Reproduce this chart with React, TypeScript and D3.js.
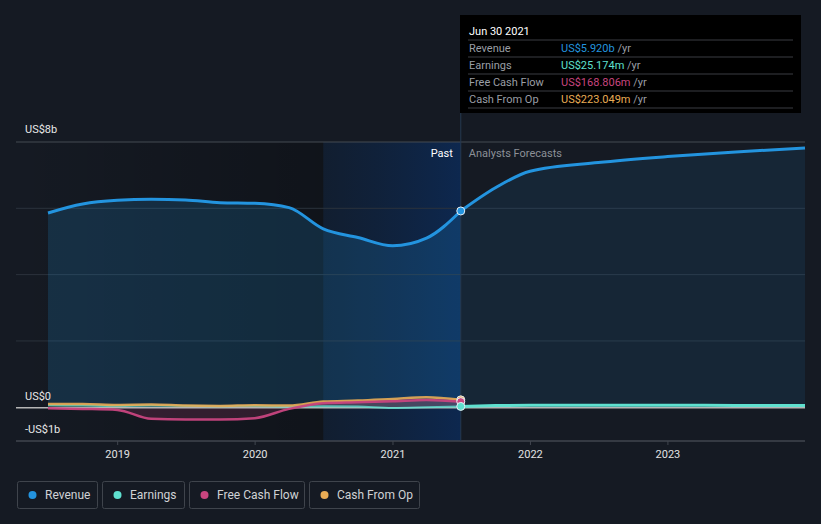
import React, { useEffect, useRef } from 'react';
import * as d3 from 'd3';

// quarterly history + analyst forecasts, values in US$ billions
const pastDates = [
  '2018-06-30', '2018-09-30', '2018-12-31', '2019-03-31', '2019-06-30', '2019-09-30', '2019-12-31',
  '2020-03-31', '2020-06-30', '2020-09-30', '2020-12-31', '2021-03-31', '2021-06-30',
];
const revenuePast = [5.86, 6.13, 6.24, 6.27, 6.25, 6.17, 6.15, 6.02, 5.38, 5.12, 4.87, 5.1, 5.92];
const earningsPast = [0.06, 0.05, 0.04, 0.05, 0.04, 0.03, 0.04, 0.02, 0.03, 0.02, -0.02, 0.0, 0.025];
const fcfPast = [-0.03, -0.05, -0.08, -0.35, -0.37, -0.37, -0.33, -0.05, 0.12, 0.15, 0.18, 0.22, 0.169];
const cfoPast = [0.1, 0.1, 0.07, 0.08, 0.05, 0.04, 0.06, 0.05, 0.17, 0.2, 0.25, 0.3, 0.223];

const forecastDates = ['2021-06-30', '2021-09-30', '2021-12-31', '2022-06-30', '2022-12-31', '2023-06-30', '2023-12-31'];
const revenueForecast = [5.92, 6.62, 7.12, 7.38, 7.56, 7.7, 7.82];
const earningsForecast = [0.025, 0.05, 0.06, 0.06, 0.06, 0.055, 0.05];

const yearTicks = [2019, 2020, 2021, 2022, 2023];
const yLabels = [
  { v: 8, t: 'US$8b' },
  { v: 0, t: 'US$0' },
  { v: -1, t: '-US$1b' },
];

const series = [
  { name: 'Revenue', color: '#2394df', value: 'US$5.920b' },
  { name: 'Earnings', color: '#5fe0cf', value: 'US$25.174m' },
  { name: 'Free Cash Flow', color: '#c8457f', value: 'US$168.806m' },
  { name: 'Cash From Op', color: '#e9ac55', value: 'US$223.049m' },
];

const W = 821;
const H = 524;
const FONT = 'Roboto, "Open Sans", sans-serif';

const App: React.FC = () => {
  const svgRef = useRef<SVGSVGElement>(null);

  useEffect(() => {
    if (!svgRef.current) return;
    const svg = d3.select(svgRef.current);
    svg.selectAll('*').remove();

    const parse = d3.timeParse('%Y-%m-%d');
    const pd = pastDates.map(d => parse(d)!);
    const fd = forecastDates.map(d => parse(d)!);

    const x = d3.scaleTime().domain([pd[0], fd[fd.length - 1]]).range([48, 805]);
    const y = d3.scaleLinear().domain([-1, 8]).range([440.4, 142]);
    const left = 16;
    const right = 805;
    const now = pd[pd.length - 1];
    const bandStart = pd[8];

    const defs = svg.append('defs');
    const g1 = defs.append('linearGradient').attr('id', 'pastShade').attr('x1', '0').attr('x2', '1');
    g1.append('stop').attr('offset', '0').attr('stop-color', '#000').attr('stop-opacity', 0);
    g1.append('stop').attr('offset', '1').attr('stop-color', '#000').attr('stop-opacity', 0.25);
    const g2 = defs.append('linearGradient').attr('id', 'yearShade').attr('x1', '0').attr('x2', '1');
    g2.append('stop').attr('offset', '0').attr('stop-color', '#0d2340').attr('stop-opacity', 0.45);
    g2.append('stop').attr('offset', '1').attr('stop-color', '#0b2b5a').attr('stop-opacity', 0.8);

    // background regions
    svg.append('rect').attr('x', left).attr('y', 142).attr('width', x(bandStart) - left).attr('height', 441 - 142)
      .attr('fill', 'url(#pastShade)');
    svg.append('rect').attr('x', x(bandStart)).attr('y', 142).attr('width', x(now) - x(bandStart)).attr('height', 441 - 142)
      .attr('fill', 'url(#yearShade)');

    // grid
    [2, 4, 6].forEach(v => {
      svg.append('line').attr('x1', left).attr('x2', right).attr('y1', y(v)).attr('y2', y(v))
        .attr('stroke', '#2b323c').attr('stroke-width', 1);
    });
    svg.append('line').attr('x1', left).attr('x2', right).attr('y1', y(8)).attr('y2', y(8))
      .attr('stroke', '#454a53').attr('stroke-width', 1);

    const area = (vals: number[], dates: Date[]) =>
      d3.area<number>().x((_, i) => x(dates[i])).y0(y(0)).y1(d => y(d)).curve(d3.curveMonotoneX)(vals);
    const line = (vals: number[], dates: Date[]) =>
      d3.line<number>().x((_, i) => x(dates[i])).y(d => y(d)).curve(d3.curveMonotoneX)(vals);

    // areas
    svg.append('path').attr('d', area(revenuePast, pd)).attr('fill', '#2394df').attr('fill-opacity', 0.18);
    svg.append('path').attr('d', area(revenueForecast, fd)).attr('fill', '#2394df').attr('fill-opacity', 0.1);
    svg.append('path').attr('d', area(fcfPast, pd)).attr('fill', '#c8457f').attr('fill-opacity', 0.18);
    svg.append('path').attr('d', area(cfoPast, pd)).attr('fill', '#e9ac55').attr('fill-opacity', 0.12);
    svg.append('path').attr('d', area(earningsForecast, fd)).attr('fill', '#5fe0cf').attr('fill-opacity', 0.1);

    // zero line
    svg.append('line').attr('x1', left).attr('x2', right).attr('y1', y(0) + 0.5).attr('y2', y(0) + 0.5)
      .attr('stroke', '#b5b5b5').attr('stroke-width', 1.5);

    // lines
    const drawLine = (vals: number[], dates: Date[], color: string, w: number, op = 1) =>
      svg.append('path').attr('d', line(vals, dates)).attr('fill', 'none')
        .attr('stroke', color).attr('stroke-width', w).attr('stroke-opacity', op);

    drawLine(earningsPast, pd, '#5fe0cf', 2, 0.8);
    drawLine(cfoPast, pd, '#e9ac55', 2.5, 0.9);
    drawLine(fcfPast, pd, '#c8457f', 2.5, 0.95);
    drawLine(earningsForecast, fd, '#5fe0cf', 3);
    drawLine(revenuePast, pd, '#2394df', 3);
    drawLine(revenueForecast, fd, '#2394df', 3);

    // bottom axis
    svg.append('line').attr('x1', left).attr('x2', right).attr('y1', 441).attr('y2', 441)
      .attr('stroke', '#41464f').attr('stroke-width', 1.5);
    yearTicks.forEach(yr => {
      const xx = x(new Date(yr, 0, 1));
      svg.append('line').attr('x1', xx).attr('x2', xx).attr('y1', 441).attr('y2', 445)
        .attr('stroke', '#41464f');
      svg.append('text').attr('x', xx).attr('y', 458).attr('text-anchor', 'middle')
        .attr('fill', '#e2e2e2').style('font-size', '11px').style('font-family', FONT).text(String(yr));
    });

    // y labels
    yLabels.forEach(l => {
      const yy = l.v === 8 ? 133 : l.v === 0 ? 400 : 433;
      svg.append('text').attr('x', 25).attr('y', yy).attr('fill', '#e8e8e8')
        .style('font-size', '11px').style('font-family', FONT).text(l.t);
    });

    // now line
    svg.append('line').attr('x1', x(now)).attr('x2', x(now)).attr('y1', 15).attr('y2', 441)
      .attr('stroke', '#26384f').attr('stroke-width', 1);

    svg.append('text').attr('x', x(now) - 8).attr('y', 157).attr('text-anchor', 'end')
      .attr('fill', '#ffffff').style('font-size', '11px').style('font-family', FONT).text('Past');
    svg.append('text').attr('x', x(now) + 8).attr('y', 157)
      .attr('fill', '#8c9097').style('font-size', '11px').style('font-family', FONT).text('Analysts Forecasts');

    // markers
    const lastVals = [revenuePast[12], earningsPast[12], fcfPast[12], cfoPast[12]];
    [3, 2, 1, 0].forEach(i => {
      svg.append('circle').attr('cx', x(now)).attr('cy', y(lastVals[i])).attr('r', 4)
        .attr('fill', series[i].color).attr('stroke', '#e8eef5').attr('stroke-width', 1);
    });

    // tooltip
    const tx = 460;
    const tw = 341;
    const tip = svg.append('g');
    tip.append('rect').attr('x', tx).attr('y', 15).attr('width', tw).attr('height', 98).attr('fill', '#000');
    tip.append('text').attr('x', tx + 9).attr('y', 35).attr('fill', '#fff')
      .style('font-size', '11px').style('font-family', FONT).text('Jun 30 2021');
    series.forEach((s, i) => {
      const ry = 40 + i * 17;
      tip.append('line').attr('x1', tx + 8).attr('x2', tx + tw - 8).attr('y1', ry).attr('y2', ry)
        .attr('stroke', '#3a3d42');
      tip.append('text').attr('x', tx + 9).attr('y', ry + 12).attr('fill', '#9a9ea5')
        .style('font-size', '11px').style('font-family', FONT).text(s.name);
      const t = tip.append('text').attr('x', tx + 101).attr('y', ry + 12)
        .style('font-size', '11px').style('font-family', FONT);
      t.append('tspan').attr('fill', s.color).text(s.value);
      t.append('tspan').attr('fill', '#9a9ea5').text(' /yr');
    });
    tip.append('line').attr('x1', tx + 8).attr('x2', tx + tw - 8).attr('y1', 108).attr('y2', 108)
      .attr('stroke', '#3a3d42');

    // legend
    const widths = [80, 82, 115, 110];
    let lx = 17;
    series.forEach((s, i) => {
      const lg = svg.append('g').attr('transform', `translate(${lx},481)`);
      lg.append('rect').attr('x', 0.5).attr('y', 0.5).attr('width', widths[i]).attr('height', 27).attr('rx', 2)
        .attr('fill', 'none').attr('stroke', '#3f444c');
      lg.append('circle').attr('cx', 15.5).attr('cy', 14).attr('r', 4).attr('fill', s.color);
      lg.append('text').attr('x', 28).attr('y', 18).attr('fill', '#d0d2d5')
        .style('font-size', '12px').style('font-family', FONT).text(s.name);
      lx += widths[i] + 5;
    });
  }, []);

  return (
    <div style={{ position: 'fixed', left: 0, top: 0, width: W, height: H, background: '#151a23' }}>
      <svg ref={svgRef} width={W} height={H} style={{ display: 'block' }} />
    </div>
  );
};

export default App;
